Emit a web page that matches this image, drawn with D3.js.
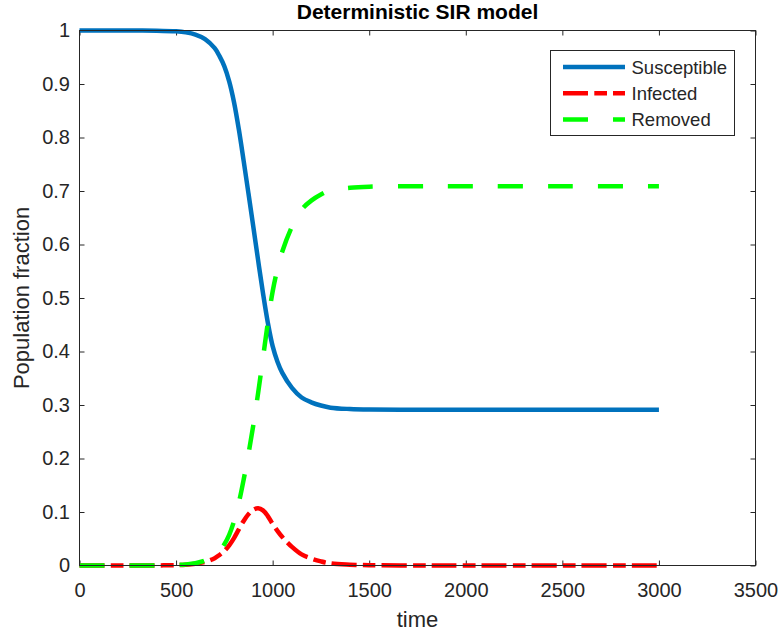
<!DOCTYPE html>
<html>
<head>
<meta charset="utf-8">
<script src="https://cdn.jsdelivr.net/npm/d3@7"></script>
<style>
  body { margin: 0; background: #fff; }
  svg { display: block; }
  text { font-family: "Liberation Sans", Arial, Helvetica, sans-serif; fill: #262626; }
</style>
</head>
<body>
<div id="chart"></div>
<script>
// values
const time = [0, 100, 200, 300, 400, 500, 550, 600, 650, 700, 725, 750, 775, 800, 825, 850, 875, 900, 925, 950,
  975, 1000, 1025, 1050, 1100, 1150, 1200, 1250, 1300, 1400, 1500, 1750, 2000, 2500, 3000]
const susceptible = [1, 1, 0.9999, 0.9999, 0.9997, 0.9984, 0.9965, 0.9925, 0.984, 0.967, 0.952, 0.933, 0.905,
  0.866, 0.815, 0.756, 0.695, 0.633, 0.570, 0.509, 0.454, 0.410, 0.381, 0.360, 0.332, 0.314, 0.305, 0.299,
  0.295, 0.2925, 0.2915, 0.291, 0.291, 0.291, 0.291]
const infected = [0, 0, 0, 0, 0.0001, 0.0007, 0.0015, 0.0032, 0.0067, 0.0137, 0.0197, 0.0272, 0.0377, 0.0513,
  0.0675, 0.0833, 0.096, 0.1044, 0.1071, 0.1031, 0.0924, 0.0778, 0.0647, 0.0532, 0.0347, 0.0207, 0.013,
  0.0076, 0.0038, 0.0015, 0.0005, 0.0001, 0, 0, 0]
const removed = [0, 0, 0.0001, 0.0001, 0.0002, 0.0009, 0.002, 0.0043, 0.0093, 0.0193, 0.0283, 0.0398, 0.0573,
  0.0827, 0.1175, 0.1607, 0.209, 0.2626, 0.3229, 0.3879, 0.4536, 0.5122, 0.5543, 0.5868, 0.6333, 0.6653,
  0.682, 0.6934, 0.7012, 0.706, 0.708, 0.7089, 0.709, 0.709, 0.709]

const xTicks = [0, 500, 1000, 1500, 2000, 2500, 3000, 3500]
const yTicks = [0, 0.1, 0.2, 0.3, 0.4, 0.5, 0.6, 0.7, 0.8, 0.9, 1]

const seriesNames = ['Susceptible', 'Infected', 'Removed']
const seriesValues = [susceptible, infected, removed]
const seriesColors = ['#0072BD', '#FF0000', '#00FF00']
const seriesDash = [null, '25,6.3,12.7,6', '25,25']

const width = 779
const height = 634
const plotLeft = 79.5, plotRight = 755.5, plotTop = 30.5, plotBottom = 565.5

const svg = d3.select('#chart')
  .append('svg')
  .attr('width', width)
  .attr('height', height)

const x = d3.scaleLinear().domain([0, 3500]).range([plotLeft, plotRight])
const y = d3.scaleLinear().domain([0, 1]).range([plotBottom, plotTop])
const fmt = d3.format('~g')

// axes, ticks pointing inwards like matlab
svg.append('g')
  .attr('transform', `translate(0,${plotBottom})`)
  .call(d3.axisBottom(x).tickValues(xTicks).tickFormat(fmt).tickSizeInner(-5).tickSizeOuter(0).tickPadding(17))
svg.append('g')
  .attr('transform', `translate(0,${plotTop})`)
  .call(d3.axisTop(x).tickValues(xTicks).tickFormat('').tickSizeInner(-5).tickSizeOuter(0))
svg.append('g')
  .attr('transform', `translate(${plotLeft},0)`)
  .call(d3.axisLeft(y).tickValues(yTicks).tickFormat(fmt).tickSizeInner(-5).tickSizeOuter(0).tickPadding(9.5))
svg.append('g')
  .attr('transform', `translate(${plotRight},0)`)
  .call(d3.axisRight(y).tickValues(yTicks).tickFormat('').tickSizeInner(-5).tickSizeOuter(0))

svg.selectAll('.domain').remove()
svg.selectAll('.tick line').attr('stroke', '#262626')
svg.selectAll('.tick text')
  .attr('font-size', '20px')
  .attr('font-family', '"Liberation Sans", Arial, sans-serif')
  .attr('fill', '#262626')

// plot lines
const line = d3.line()
  .x((d, i) => x(time[i]))
  .y(d => y(d))
  .curve(d3.curveCatmullRom.alpha(0.5))

seriesValues.forEach((vals, k) => {
  svg.append('path')
    .datum(vals)
    .attr('d', line)
    .attr('fill', 'none')
    .attr('stroke', seriesColors[k])
    .attr('stroke-width', 4.5)
    .attr('stroke-dasharray', seriesDash[k])
    .attr('stroke-linecap', 'butt')
    .attr('stroke-linejoin', 'round')
})

// box
svg.append('rect')
  .attr('x', plotLeft)
  .attr('y', plotTop)
  .attr('width', plotRight - plotLeft)
  .attr('height', plotBottom - plotTop)
  .attr('fill', 'none')
  .attr('stroke', '#262626')
  .attr('stroke-width', 1)

// title and labels
svg.append('text')
  .attr('x', (plotLeft + plotRight) / 2)
  .attr('y', 19)
  .attr('text-anchor', 'middle')
  .attr('font-size', '21px')
  .attr('font-weight', 'bold')
  .style('fill', '#000')
  .text('Deterministic SIR model')

svg.append('text')
  .attr('x', (plotLeft + plotRight) / 2)
  .attr('y', 627)
  .attr('text-anchor', 'middle')
  .attr('font-size', '22px')
  .text('time')

svg.append('text')
  .attr('transform', `translate(29,${(plotTop + plotBottom) / 2}) rotate(-90)`)
  .attr('text-anchor', 'middle')
  .attr('font-size', '22px')
  .text('Population fraction')

// legend
const legend = svg.append('g').attr('transform', 'translate(550.5,50.5)')
legend.append('rect')
  .attr('width', 184)
  .attr('height', 85)
  .attr('fill', '#fff')
  .attr('stroke', '#262626')
  .attr('stroke-width', 1)

seriesNames.forEach((name, k) => {
  const rowY = 16.5 + k * 26.3
  legend.append('line')
    .attr('x1', 12.5)
    .attr('x2', 74.5)
    .attr('y1', rowY)
    .attr('y2', rowY)
    .attr('stroke', seriesColors[k])
    .attr('stroke-width', 4.5)
    .attr('stroke-dasharray', seriesDash[k])
  legend.append('text')
    .attr('x', 81)
    .attr('y', rowY + 6.5)
    .attr('font-size', '18.5px')
    .text(name)
})
</script>
</body>
</html>
